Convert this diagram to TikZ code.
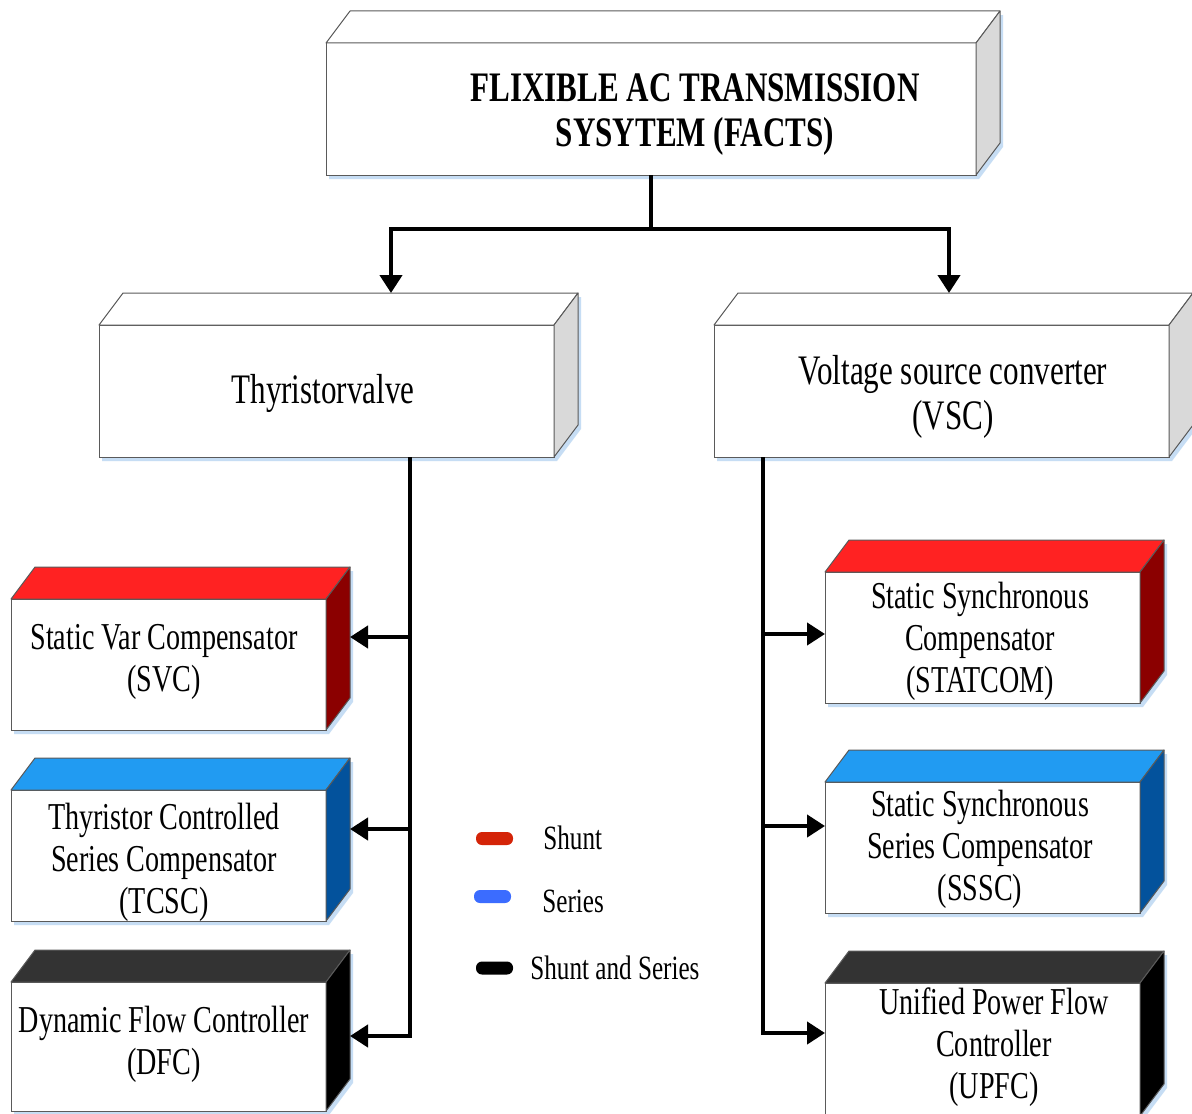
\documentclass[tikz,border=0pt]{standalone}
\usepackage{fontspec}
\setmainfont{Liberation Serif}[FakeStretch=0.74]
\usetikzlibrary{arrows.meta}

\definecolor{edgegray}{HTML}{5A5A5A}
\definecolor{sidegray}{HTML}{D9D9D9}
\definecolor{shuntTop}{HTML}{FF2222}
\definecolor{shuntSide}{HTML}{8B0000}
\definecolor{seriesTop}{HTML}{219BF2}
\definecolor{seriesSide}{HTML}{03529C}
\definecolor{bothTop}{HTML}{333333}
\definecolor{bothSide}{HTML}{000000}
\definecolor{glowblue}{HTML}{C6DDF4}
\definecolor{keyRed}{HTML}{D42408}
\definecolor{keyBlue}{HTML}{3B6CFF}

% 3-D block: #1 name, #2 left, #3 top, #4 right, #5 bottom (front face),
% #6 top-face colour, #7 side-face colour
\newcommand\facbox[7]{%
  \fill[glowblue] (#2+3,#5+4) -- (#4+3,#5+4) -- (#4+27,#5-28) -- (#4+27,#3-28) -- (#2+3,#3) -- cycle;
  \node[front, minimum width={(#4-#2)*0.5pt}, minimum height={(#5-#3)*0.5pt}]
    (#1) at ({(#2+#4)/2},{(#3+#5)/2}) {};
  \filldraw[face, fill=#6] (#1.north west) -- ++(24,-32) -- ++({#4-#2},0) -- (#1.north east) -- cycle;
  \filldraw[face, fill=#7] (#1.north east) -- ++(24,-32) -- ++(0,{#5-#3}) -- (#1.south east) -- cycle;
}

\tikzset{
  front/.style={rectangle, draw=edgegray, fill=white, line width=0.5pt, inner sep=0pt, outer sep=0pt},
  face/.style={draw=edgegray, line width=0.5pt, line join=round},
  conn/.style={line width=2.1pt, draw=black},
  arr/.style={conn, -{Triangle[length=9pt,width=11pt]}},
  titletext/.style={font=\fontsize{21}{22.5}\selectfont\bfseries, align=center},
  lvltwo/.style={font=\fontsize{21}{22.5}\selectfont, align=center},
  lvlthree/.style={font=\fontsize{19}{21}\selectfont, align=center},
  keytext/.style={font=\fontsize{17}{19}\selectfont, anchor=west, inner sep=0pt},
  keypill/.style={rectangle, rounded corners=3pt, minimum width=18.5pt, minimum height=6.5pt, inner sep=0pt},
}

\begin{document}
\begin{tikzpicture}[x=0.5pt, y=-0.5pt]
\useasboundingbox (0,0) rectangle (1192,1113);
\fill[white] (0,0) rectangle (1192,1113);
\clip (0,0) rectangle (1192,1113);

% blocks
\facbox{facts}{326}{43}{976}{175}{white}{sidegray}
\facbox{thyr}{99}{325}{554}{457}{white}{sidegray}
\facbox{vsc}{714}{325}{1169}{457}{white}{sidegray}
\facbox{svc}{11}{599}{326}{730}{shuntTop}{shuntSide}
\facbox{tcsc}{11}{790}{326}{921}{seriesTop}{seriesSide}
\facbox{dfc}{11}{982}{326}{1111}{bothTop}{bothSide}
\facbox{statcom}{825}{572}{1140}{703}{shuntTop}{shuntSide}
\facbox{sssc}{825}{782}{1140}{913}{seriesTop}{seriesSide}
\facbox{upfc}{825}{983}{1140}{1116}{bothTop}{bothSide}

% block texts
\node[titletext] (facts-t) at (695,115) {FLIXIBLE AC TRANSMISSION\\SYSYTEM (FACTS)};
\node[lvltwo] (thyr-t) at (323,393) {Thyristorvalve};
\node[lvltwo] (vsc-t) at (953,397) {Voltage source converter\\(VSC)};
\node[lvlthree] (svc-t) at (164,662) {Static Var Compensator\\(SVC)};
\node[lvlthree] (tcsc-t) at (164,862) {Thyristor Controlled\\Series Compensator\\(TCSC)};
\node[lvlthree] (dfc-t) at (164,1044) {Dynamic Flow Controller\\(DFC)};
\node[lvlthree] (statcom-t) at (980,641) {Static Synchronous\\Compensator\\(STATCOM)};
\node[lvlthree] (sssc-t) at (980,849) {Static Synchronous\\Series Compensator\\(SSSC)};
\node[lvlthree] (upfc-t) at (994,1047) {Unified Power Flow\\Controller\\(UPFC)};

% connector points
\coordinate (bus) at (651,229);
\coordinate (thyr-in) at (391,293);
\coordinate (vsc-in) at (949,293);
\coordinate (trunkL) at (410,0);
\coordinate (trunkR) at (763,0);
\coordinate (svc-in) at (350,637);
\coordinate (tcsc-in) at (350,829);
\coordinate (dfc-in) at (350,1036);
\coordinate (statcom-in) at (825,634);
\coordinate (sssc-in) at (825,826);
\coordinate (upfc-in) at (825,1033);

% connectors
\draw[conn] (facts.south) -- (bus);
\draw[arr] (bus) -| (thyr-in);
\draw[arr] (bus) -| (vsc-in);
\draw[arr] (thyr.south -| trunkL) |- (dfc-in);
\draw[arr] (trunkL |- svc-in) -- (svc-in);
\draw[arr] (trunkL |- tcsc-in) -- (tcsc-in);
\draw[arr] (vsc.south -| trunkR) |- (upfc-in);
\draw[arr] (trunkR |- statcom-in) -- (statcom-in);
\draw[arr] (trunkR |- sssc-in) -- (sssc-in);

% key
\node[keypill, fill=keyRed] (key-shunt) at (494.5,838.5) {};
\node[keypill, fill=keyBlue] (key-series) at (492.5,896.5) {};
\node[keypill, fill=black] (key-both) at (494.5,968) {};
\node[keytext] (key-shunt-t) at (543,838) {Shunt};
\node[keytext] (key-series-t) at (542,901) {Series};
\node[keytext] (key-both-t) at (530,968) {Shunt and Series};
\end{tikzpicture}
\end{document}
